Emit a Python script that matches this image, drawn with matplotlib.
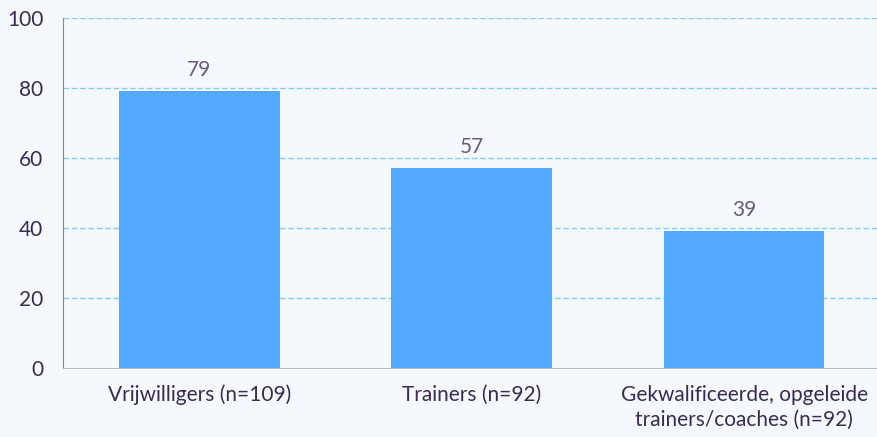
import matplotlib.pyplot as plt
import numpy as np

# data
categories = ['Vrijwilligers (n=109)', 'Trainers (n=92)',
              'Gekwalificeerde, opgeleide\ntrainers/coaches (n=92)']
values = [79, 57, 39]
yticks = [0, 20, 40, 60, 80, 100]

plt.rcParams['font.family'] = ['Lato', 'DejaVu Sans']

bg = '#F5F8FD'
txt = '#3B2A52'

fig = plt.figure(figsize=(8.77, 4.37), dpi=100, facecolor=bg)
ax = fig.add_axes([0.0718, 0.158, 0.932, 0.801])
ax.set_facecolor(bg)

x = np.arange(len(categories))
bars = ax.bar(x, values, width=0.59, color='#52A9FF', zorder=3)

# waarden boven de balken
for xi, v in zip(x, values):
    ax.annotate(str(v), (xi, v), xytext=(0, 8), textcoords='offset points',
                ha='center', va='bottom', fontsize=15, color='#6B5A7E')

ax.set_xlim(-0.5, 2.5)
ax.set_ylim(0, 100)
ax.set_yticks(yticks)
ax.set_xticks(x)
ax.set_xticklabels(categories, linespacing=1.3)
ax.tick_params(axis='both', length=0, labelsize=15, colors=txt)
ax.tick_params(axis='x', pad=12)
ax.tick_params(axis='y', pad=14)

# gestippelde rasterlijnen
for t in yticks[1:]:
    ax.axhline(t, color='#80CCFF', linestyle=(0, (4, 2)), linewidth=1, zorder=1)

for s in ['top', 'right']:
    ax.spines[s].set_visible(False)
ax.spines['left'].set_color('#888888')
ax.spines['bottom'].set_color('#BBBBBB')

fig.savefig('out.png', dpi=100, facecolor=bg)
